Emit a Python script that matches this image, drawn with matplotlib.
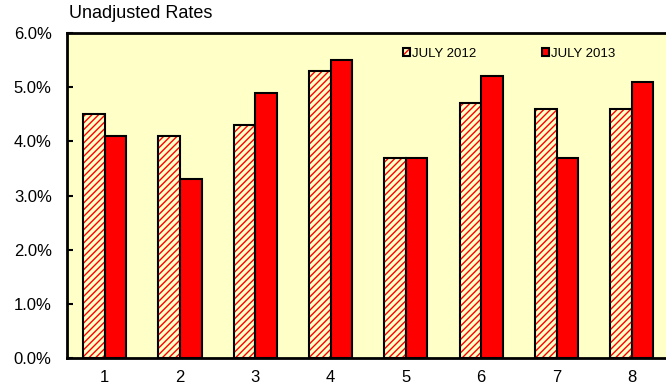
import numpy as np
import matplotlib.pyplot as plt
from matplotlib.ticker import FuncFormatter
from matplotlib.patches import Rectangle

plt.rcParams['font.family'] = ['Liberation Sans', 'DejaVu Sans']
plt.rcParams['hatch.linewidth'] = 1.0

categories = ['1', '2', '3', '4', '5', '6', '7', '8']
july_2012 = [4.5, 4.1, 4.3, 5.3, 3.7, 4.7, 4.6, 4.6]
july_2013 = [4.1, 3.3, 4.9, 5.5, 3.7, 5.2, 3.7, 5.1]

bg = '#FFFFC8'

fig = plt.figure(figsize=(6.66, 3.87), dpi=100)
ax = fig.add_axes([67 / 666, 1 - 358 / 387, (669.5 - 67) / 666, 325 / 387])
ax.set_facecolor(bg)

x = np.arange(1, len(categories) + 1)
w = 0.286
# hatched layer (red hatch), then black outline on top
ax.bar(x - w / 2, july_2012, w, facecolor=bg, edgecolor='red', hatch='/////',
       linewidth=0, zorder=2)
ax.bar(x - w / 2, july_2012, w, facecolor='none', edgecolor='black',
       linewidth=1.5, zorder=3)
ax.bar(x + w / 2, july_2013, w, facecolor='#FF0000', edgecolor='black',
       linewidth=1.5, zorder=3)

ax.set_xlim(0.5, 8.5)
ax.set_ylim(0, 6)
ax.set_yticks(np.arange(0, 7, 1))
ax.yaxis.set_major_formatter(FuncFormatter(lambda v, p: f'{v:.1f}%'))
ax.set_xticks(x)
ax.set_xticklabels(categories)
ax.tick_params(axis='y', direction='in', length=4, width=1.5, labelsize=12, pad=11)
ax.tick_params(axis='x', length=0, labelsize=12, pad=9)
for s in ax.spines.values():
    s.set_linewidth(2)

fig.text(69 / 666, 1 - 14 / 387, 'Unadjusted Rates', fontsize=13, va='center', ha='left')

# legend handles
h2012 = Rectangle((0, 0), 1, 1, facecolor=bg, edgecolor='red', hatch='////', linewidth=0)
h2012b = Rectangle((0, 0), 1, 1, facecolor='none', edgecolor='black', linewidth=1.5)
h2013 = Rectangle((0, 0), 1, 1, facecolor='#FF0000', edgecolor='black', linewidth=1.5)
ax.legend([(h2012, h2012b), h2013], ['JULY 2012', 'JULY 2013'],
          loc='center left', bbox_to_anchor=(0.557, 0.935), ncol=2, frameon=False,
          fontsize=9.5, handlelength=0.55, handleheight=0.55, handletextpad=0.15,
          columnspacing=5.0, borderpad=0, borderaxespad=0)

fig.savefig('out.png', dpi=100)
